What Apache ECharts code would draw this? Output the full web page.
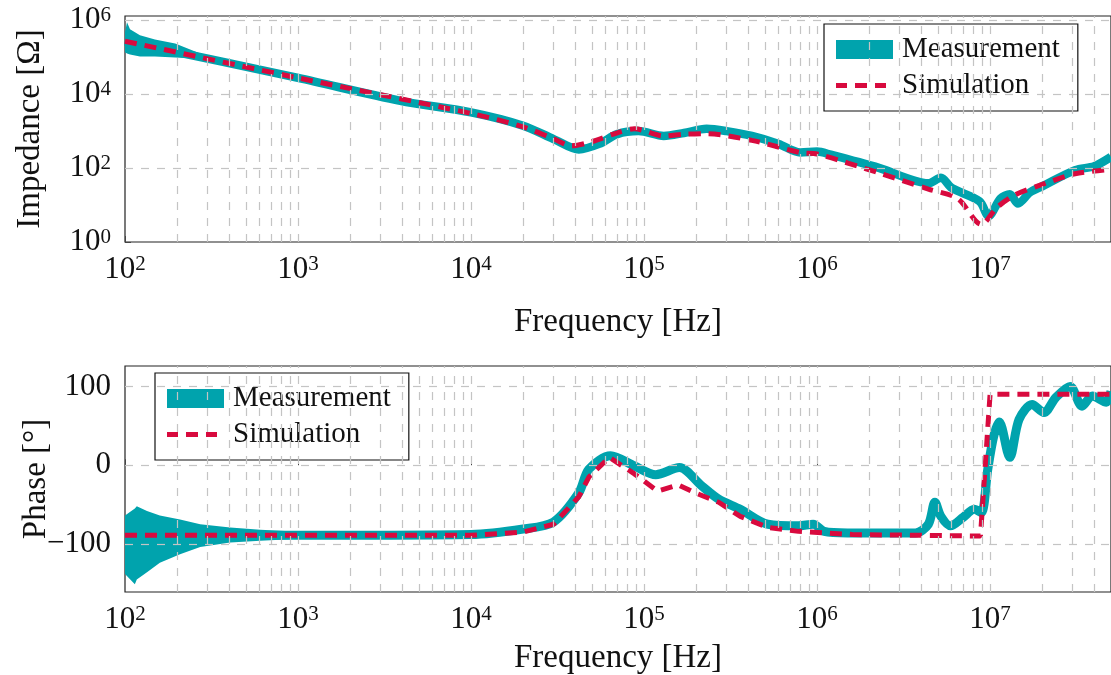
<!DOCTYPE html>
<html>
<head>
<meta charset="utf-8">
<script src="https://cdn.jsdelivr.net/npm/echarts@6/dist/echarts.min.js"></script>
<style>
html, body { margin: 0; padding: 0; background: #fff; }
#chart { width: 1111px; height: 675px; }
</style>
</head>
<body>
<div id="chart"></div>
<script>
// 阻抗幅值 - 测量
var magFreq = [100, 1e3, 3.9e3, 1e4, 2e4, 3e4, 4.2e4, 5.5e4, 7e4, 9.3e4, 1.3e5, 1.7e5, 2.3e5, 3e5, 4.2e5, 6e5, 8e5, 1e6, 1.2e6, 2.3e6, 4.4e6, 5.2e6, 6e6, 8.7e6, 9.8e6, 1.15e7, 1.3e7, 1.45e7, 1.7e7, 2e7, 3.1e7, 4e7, 5e7];
var magMeas = [2.7e5, 2.75e4, 6.6e3, 3.2e3, 1.4e3, 610, 320, 450, 830, 1000, 740, 890, 1150, 1000, 740, 450, 265, 280, 230, 100, 39, 55, 29, 12.6, 5, 15, 19.6, 11, 22, 32, 88, 112, 200];

// 阻抗幅值 - 仿真
var magSimFreq = [100, 1e3, 1e4, 2e4, 3e4, 3.8e4, 5e4, 7e4, 8.8e4, 1.3e5, 1.7e5, 2.3e5, 4.2e5, 8.1e5, 1e6, 2.3e6, 4.4e6, 6.5e6, 8.9e6, 1.1e7, 1.4e7, 2e7, 3.1e7, 5e7];
var magSim = [2.7e5, 2.75e4, 3.0e3, 1.3e3, 620, 400, 520, 900, 1150, 740, 820, 850, 560, 260, 240, 73, 27, 15, 3, 8.7, 19, 36, 70, 93];

// 低频噪声带（幅值）
var magBandFreq = [100, 102.7, 106.9, 122, 149, 195, 272];
var magBandLow = [1.35e5, 1.25e5, 1.19e5, 1.05e5, 1.05e5, 9.8e4, 9e4];
var magBandHigh = [4.7e5, 8.8e5, 5.7e5, 3.9e5, 3.0e5, 2.35e5, 1.25e5];

// 相位 - 测量
var phaseFreq = [100, 1e3, 1e4, 2e4, 3e4, 4.2e4, 4.8e4, 6.4e4, 8.8e4, 1.17e5, 1.6e5, 2.15e5, 2.7e5, 3.6e5, 5.2e5, 7.8e5, 9.5e5, 1.1e6, 1.5e6, 3.7e6, 4.4e6, 4.8e6, 5.2e6, 5.9e6, 7e6, 8.1e6, 8.9e6, 9.7e6, 1.05e7, 1.13e7, 1.3e7, 1.47e7, 1.75e7, 2.05e7, 2.4e7, 2.9e7, 3.4e7, 3.9e7, 4.7e7, 5e7];
var phaseMeas = [-89, -89, -88, -81, -72, -35, -5, 12, -1, -12, -3, -26, -43, -56, -75, -77, -75, -84, -86, -86, -75, -47, -65, -77, -66, -56, -60, -5, 37, 55, 10, 58, 77, 67, 86, 100, 75, 88, 80, 94];

// 相位 - 仿真
var phaseSimFreq = [100, 1e4, 2e4, 3e4, 4.2e4, 4.8e4, 6.3e4, 8.8e4, 1.2e5, 1.58e5, 1.97e5, 2.7e5, 3.6e5, 5.2e5, 7.8e5, 1.6e6, 8.8e6, 1.0e7, 5e7];
var phaseSim = [-89, -89, -85, -75, -40, -15, 10, -11, -33, -25, -35, -47, -65, -79, -84, -88, -90, 90, 90];

// 低频噪声带（相位）
var phaseBandFreq = [100, 114, 117, 134, 159, 208, 272, 406, 606, 900];
var phaseBandLow = [-138, -151, -145, -136, -124, -113, -104, -98, -96, -94];
var phaseBandHigh = [-64, -55, -52, -58, -64, -69, -75, -79, -82, -84];

var xTicks = [1e2, 1e3, 1e4, 1e5, 1e6, 1e7];
var magTicks = [1, 1e2, 1e4, 1e6];
var phaseTicks = [-100, 0, 100];

var teal = '#00a3ad';
var red = '#d80a3e';
var font = 'Liberation Serif';

function zip(xs, ys) {
  return xs.map(function (x, i) { return [x, ys[i]]; });
}

// 网格线（对数刻度的次网格）
var vLines = [];
for (var d = 2; d <= 7; d++) {
  for (var m = 1; m <= 9; m++) {
    var v = m * Math.pow(10, d);
    if (v > 100 && v < 5e7) vLines.push({ xAxis: v });
  }
}

function pow10Label(v) {
  return '{b|10}{s|' + Math.round(Math.log10(v)) + '}';
}

var richPow = {
  b: { fontSize: 31, fontFamily: font, color: '#111' },
  s: { fontSize: 21, fontFamily: font, color: '#111', verticalAlign: 'top', lineHeight: 16 }
};

function gridHelper(xi, yi, hVals) {
  return {
    type: 'line',
    xAxisIndex: xi,
    yAxisIndex: yi,
    data: [],
    silent: true,
    z: 1,
    markLine: {
      silent: true,
      symbol: ['none', 'none'],
      label: { show: false },
      animation: false,
      lineStyle: { color: '#c4c4c4', type: [8, 8], width: 1.2 },
      data: vLines.concat(hVals.map(function (h) { return { yAxis: h }; }))
    }
  };
}

// 噪声带：用下沿和上沿围成一个多边形
function bandSeries(xi, yi, fs, lo, hi) {
  return {
    type: 'custom',
    xAxisIndex: xi,
    yAxisIndex: yi,
    silent: true,
    z: 2,
    encode: { x: 0, y: [1, 2] },
    data: fs.map(function (f, i) { return [f, lo[i], hi[i]]; }),
    renderItem: function (params, api) {
      if (params.dataIndex !== 0) return null;
      var pts = [];
      for (var i = 0; i < fs.length; i++) pts.push(api.coord([fs[i], lo[i]]));
      for (var j = fs.length - 1; j >= 0; j--) pts.push(api.coord([fs[j], hi[j]]));
      return { type: 'polygon', shape: { points: pts }, style: { fill: teal } };
    }
  };
}

function xAxisCfg(gi, nameGap) {
  return {
    type: 'log',
    gridIndex: gi,
    min: 100,
    max: 5e7,
    name: 'Frequency [Hz]',
    nameLocation: 'middle',
    nameGap: nameGap,
    nameTextStyle: { fontSize: 33, fontFamily: font, color: '#111' },
    axisLine: { show: false },
    axisTick: { show: true, inside: true, length: 6, customValues: xTicks, lineStyle: { color: '#444' } },
    axisLabel: { customValues: xTicks, margin: 12, formatter: pow10Label, rich: richPow },
    splitLine: { show: false }
  };
}

var simIcon = 'path://M0 0L57 0Z M0 19L57 19Z M0 7h11v5H0z M19 7h12v5H19z M39 7h11v5H39z';

function legendCfg(left, top) {
  return {
    orient: 'vertical',
    left: left,
    top: top,
    padding: [11, 18, 11, 12],
    itemGap: 7,
    itemWidth: 57,
    itemHeight: 19,
    borderColor: '#111',
    borderWidth: 1.2,
    backgroundColor: '#fff',
    textStyle: { fontSize: 29, fontFamily: font, color: '#111', padding: [0, 0, 0, 4] },
    data: [
      { name: 'Measurement', icon: 'rect', itemStyle: { color: teal, borderWidth: 0 } },
      { name: 'Simulation', icon: simIcon, itemStyle: { color: red, borderWidth: 0 } }
    ]
  };
}

var myChart = echarts.init(document.getElementById('chart'));

var option = {
  animation: false,
  backgroundColor: '#fff',
  grid: [
    { left: 125, top: 16, right: 0, height: 226, show: true, borderColor: '#222', borderWidth: 1.2, outerBoundsMode: 'none' },
    { left: 125, top: 366, right: 0, height: 226, show: true, borderColor: '#222', borderWidth: 1.2, outerBoundsMode: 'none' }
  ],
  xAxis: [xAxisCfg(0, 64), xAxisCfg(1, 50)],
  yAxis: [
    {
      type: 'log',
      gridIndex: 0,
      min: 1,
      max: 1.3e6,
      name: 'Impedance [Ω]',
      nameLocation: 'middle',
      nameGap: 78,
      nameMoveOverlap: false,
      nameTextStyle: { fontSize: 33, fontFamily: font, color: '#111' },
      axisLine: { show: false },
      axisTick: { show: true, inside: true, length: 6, customValues: magTicks, lineStyle: { color: '#444' } },
      axisLabel: { customValues: magTicks, margin: 14, formatter: pow10Label, rich: richPow },
      splitLine: { show: false }
    },
    {
      type: 'value',
      gridIndex: 1,
      min: -161,
      max: 126,
      name: 'Phase [°]',
      nameLocation: 'middle',
      nameGap: 72,
      nameMoveOverlap: false,
      nameTextStyle: { fontSize: 33, fontFamily: font, color: '#111' },
      axisLine: { show: false },
      axisTick: { show: true, inside: true, length: 6, customValues: phaseTicks, lineStyle: { color: '#444' } },
      axisLabel: { customValues: phaseTicks, margin: 14, fontSize: 31, fontFamily: font, color: '#111',
        formatter: function (v) { return v < 0 ? '\u2212' + (-v) : '' + v; } },
      splitLine: { show: false }
    }
  ],
  legend: [legendCfg(824, 24), legendCfg(155, 373)],
  series: [
    gridHelper(0, 0, [1e2, 1e4, 1e6]),
    gridHelper(1, 1, [-100, 0, 100]),
    bandSeries(0, 0, magBandFreq, magBandLow, magBandHigh),
    {
      name: 'Measurement', type: 'line', xAxisIndex: 0, yAxisIndex: 0, smooth: 0.3,
      data: zip(magFreq, magMeas), symbol: 'none', itemStyle: { color: teal },
      lineStyle: { color: teal, width: 8.5 }, z: 3
    },
    {
      name: 'Simulation', type: 'line', xAxisIndex: 0, yAxisIndex: 0, smooth: 0.3,
      data: zip(magSimFreq, magSim), symbol: 'none', itemStyle: { color: red },
      lineStyle: { color: red, width: 5, type: [12, 8] }, z: 4
    },
    bandSeries(1, 1, phaseBandFreq, phaseBandLow, phaseBandHigh),
    {
      name: 'Measurement', type: 'line', xAxisIndex: 1, yAxisIndex: 1, smooth: 0.3,
      data: zip(phaseFreq, phaseMeas), symbol: 'none', itemStyle: { color: teal },
      lineStyle: { color: teal, width: 9 }, z: 3
    },
    {
      name: 'Simulation', type: 'line', xAxisIndex: 1, yAxisIndex: 1,
      data: zip(phaseSimFreq, phaseSim), symbol: 'none', itemStyle: { color: red },
      lineStyle: { color: red, width: 5, type: [12, 8] }, z: 4
    }
  ]
};

myChart.setOption(option);
</script>
</body>
</html>
